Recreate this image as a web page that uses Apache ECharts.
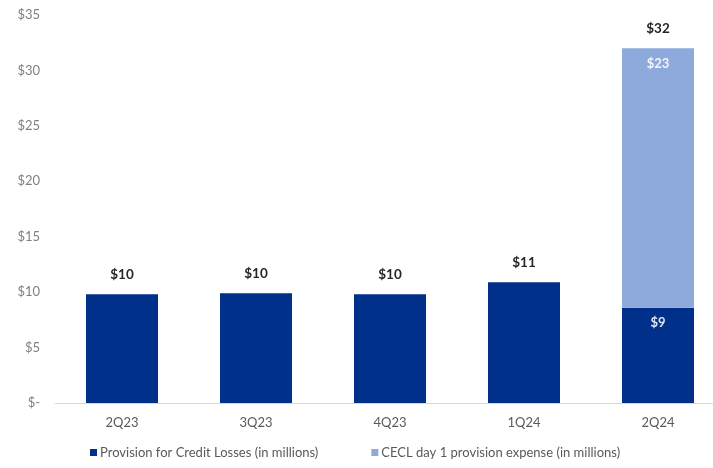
<!DOCTYPE html>
<html>
<head>
<meta charset="utf-8">
<script src="https://cdn.jsdelivr.net/npm/echarts@6/dist/echarts.min.js"></script>
<style>
  html, body { margin: 0; padding: 0; background: #ffffff; overflow: hidden; }
  /* plot area runs slightly past the right edge of the window */
  #chart { width: 725px; height: 468px; }
</style>
</head>
<body>
<div id="chart"></div>
<script>
// Quarterly provision figures, $ millions
var quarters = ['2Q23', '3Q23', '4Q23', '1Q24', '2Q24'];
var provision = [9.8, 9.9, 9.8, 10.9, 8.6];
var ceclDay1 = [0, 0, 0, 0, 23.4];
var yTicks = [0, 5, 10, 15, 20, 25, 30, 35];
var seriesNames = ['Provision for Credit Losses (in millions)', 'CECL day 1 provision expense (in millions)'];

var totals = provision.map(function (v, i) { return v + ceclDay1[i]; });
var FONT = 'Lato, "Open Sans", sans-serif';
var DARK = '#00308a';
var LIGHT = '#8eaadc';

function money(v) { return '$' + Math.round(v); }

var provisionData = provision.map(function (v, i) {
  var item = { value: v };
  if (ceclDay1[i] > 0) {
    item.label = {
      show: true, position: 'insideTop', distance: 9,
      color: '#dde6f5', fontWeight: 'bold', fontSize: 13, fontFamily: FONT,
      formatter: function (p) { return money(p.value); }
    };
  }
  return item;
});

var ceclData = ceclDay1.map(function (v) {
  var item = { value: v };
  if (v > 0) {
    item.label = {
      show: true, position: 'insideTop', distance: 9,
      color: '#f2f5fb', fontWeight: 'bold', fontSize: 13, fontFamily: FONT,
      formatter: function (p) { return money(p.value); }
    };
  }
  return item;
});

var chart = echarts.init(document.getElementById('chart'), null, { renderer: 'canvas' });
chart.setOption({
  animation: false,
  backgroundColor: '#ffffff',
  grid: { left: 55, top: 15, bottom: 65, right: 0, containLabel: false },
  legend: {
    data: seriesNames,
    bottom: 4,
    left: 85,
    itemWidth: 7,
    itemHeight: 7,
    itemGap: 53,
    icon: 'rect',
    textStyle: { color: '#595959', fontSize: 13, fontFamily: FONT, padding: [0, 0, 0, -2] }
  },
  xAxis: {
    type: 'category',
    data: quarters,
    axisLine: { lineStyle: { color: '#d9d9d9', width: 1 } },
    axisTick: { show: false },
    axisLabel: { color: '#595959', fontSize: 13, fontFamily: FONT, margin: 13 }
  },
  yAxis: {
    type: 'value',
    min: yTicks[0],
    max: yTicks[yTicks.length - 1],
    interval: 5,
    splitLine: { show: false },
    axisLine: { show: false },
    axisTick: { show: false },
    axisLabel: {
      color: '#808080', fontSize: 13, fontFamily: FONT, margin: 15,
      formatter: function (v) { return v === 0 ? '$-' : '$' + v; }
    }
  },
  series: [
    {
      name: seriesNames[0],
      type: 'bar',
      stack: 'total',
      barWidth: 72,
      itemStyle: { color: DARK },
      data: provisionData
    },
    {
      name: seriesNames[1],
      type: 'bar',
      stack: 'total',
      barWidth: 72,
      itemStyle: { color: LIGHT },
      data: ceclData
    },
    {
      // zero-height cap carrying the total label above each stack
      name: 'total',
      type: 'bar',
      stack: 'total',
      barWidth: 72,
      itemStyle: { color: 'rgba(0,0,0,0)' },
      data: totals.map(function () { return 0; }),
      label: {
        show: true, position: 'top', distance: 13,
        color: '#262626', fontWeight: 'bold', fontSize: 13.5, fontFamily: FONT,
        formatter: function (p) { return money(totals[p.dataIndex]); }
      },
      tooltip: { show: false }
    }
  ]
});
</script>
</body>
</html>
